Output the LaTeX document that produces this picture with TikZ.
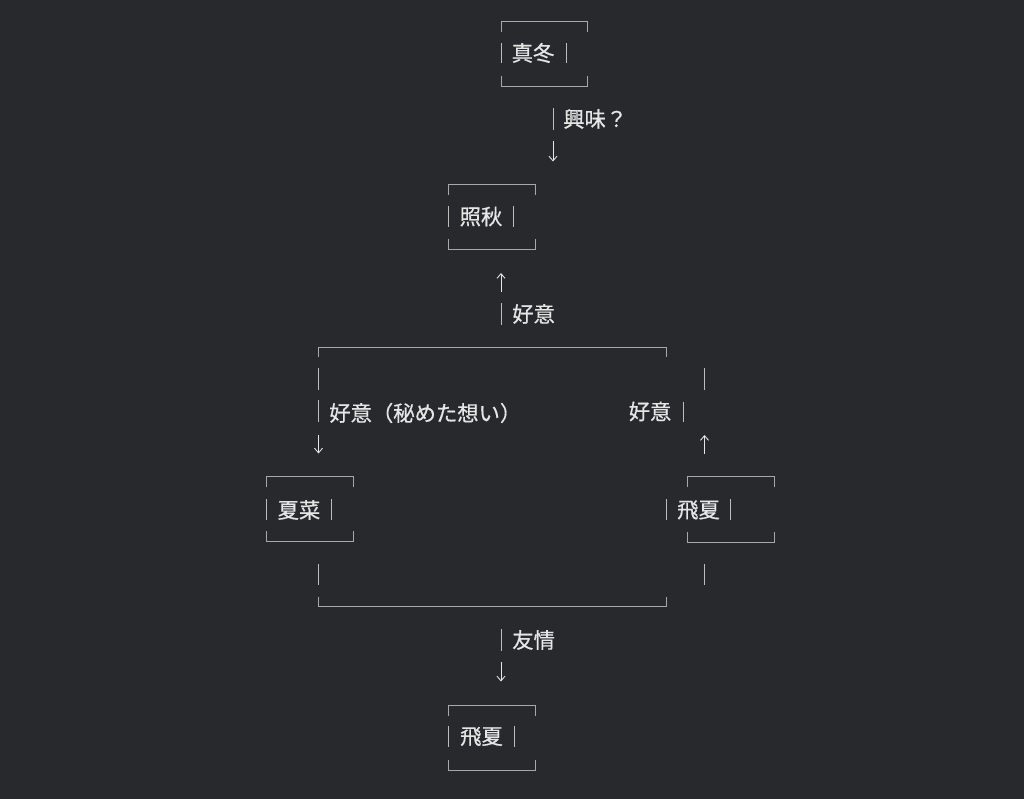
\documentclass[tikz,border=0pt]{standalone}
\usepackage{fontspec}
\newfontfamily\cjk[FakeBold=0.6]{Noto Sans CJK JP}
\usetikzlibrary{arrows.meta}
\definecolor{bg}{HTML}{28292C}
\definecolor{fg}{HTML}{E6E6E6}
\definecolor{ln}{HTML}{A8A8A8}
\definecolor{barc}{HTML}{BDBDBD}
\newcommand\frm[4]{%
  \draw[boxline] (#1,#3+10.5)--(#1,#3)--(#2,#3)--(#2,#3+10.5);
  \draw[boxline] (#1,#4-10.5)--(#1,#4)--(#2,#4)--(#2,#4-10.5);}
\newcommand\vb[3]{\draw[barline] (#1,#2)--(#1,#3);}
\begin{document}
\begin{tikzpicture}[x=0.75pt,y=-0.75pt,
  boxline/.style={draw=ln,line width=0.75pt},
  barline/.style={draw=barc,line width=0.75pt},
  lbl/.style={font=\cjk\fontsize{16}{19}\selectfont,text=fg,inner sep=0pt},
  arr/.style={draw=fg,line width=0.65pt,-{Straight Barb[length=3.5pt,width=6pt]}}]
\fill[bg] (0,0) rectangle (1024,799);
\useasboundingbox (0,0) rectangle (1024,799);

% 真冬
\frm{501}{587}{21.5}{86.5}
\vb{501}{43}{63}\vb{566}{43}{63}
\node[lbl] (mafuyu) at (533,53) {真冬};
\vb{553}{108}{130}
\node[lbl,anchor=west] (kyomi) at (563,119) {興味？};
\coordinate (a1s) at (553,141); \coordinate (a1e) at (553,161.5);
\draw[arr] (a1s) -- (a1e);

% 照秋
\frm{448.5}{535.5}{184.5}{249}
\vb{448.5}{206}{227}\vb{513.5}{206}{227}
\node[lbl] (teru) at (481,216.5) {照秋};
\coordinate (a2s) at (501,291.5); \coordinate (a2e) at (501,273);
\draw[arr] (a2s) -- (a2e);
\vb{501}{303}{325}
\node[lbl,anchor=west] (koi1) at (512,314) {好意};

% big top bracket
\draw[boxline] (318.5,357)--(318.5,347)--(666,347)--(666,357);
\vb{318.5}{368}{390}
\vb{318.5}{400}{421.5}
\node[lbl,anchor=west] (koi2) at (329,413) {好意（秘めた想い）};
\coordinate (a3s) at (318.5,435); \coordinate (a3e) at (318.5,453.5);
\draw[arr] (a3s) -- (a3e);

\vb{704.5}{368}{390}
\node[lbl] (koi3) at (650,411.5) {好意};
\vb{683}{401.5}{422}
\coordinate (a4s) at (704.5,454); \coordinate (a4e) at (704.5,435);
\draw[arr] (a4s) -- (a4e);

% 夏菜
\frm{266}{353.5}{476.7}{541.7}
\vb{266}{499}{520}\vb{331}{499}{520}
\node[lbl] (natsuna) at (299,510) {夏菜};

% 飛夏 right
\frm{687.5}{774}{476.7}{542}
\vb{666}{499}{519.5}\vb{730}{499}{519.5}
\node[lbl] (hinatsu1) at (698.5,510) {飛夏};

\vb{318.5}{563.5}{585}
\vb{704.5}{563.5}{585}
\draw[boxline] (318.5,596.5)--(318.5,606.7)--(666,606.7)--(666,596.5);

\vb{501}{628.5}{650.5}
\node[lbl,anchor=west] (yujo) at (512,640) {友情};
\coordinate (a5s) at (501,661.5); \coordinate (a5e) at (501,681.5);
\draw[arr] (a5s) -- (a5e);

% 飛夏 bottom
\frm{448.5}{535.5}{705}{770}
\vb{448.5}{726}{747}\vb{514}{726}{747}
\node[lbl] (hinatsu2) at (481.5,736.5) {飛夏};
\end{tikzpicture}
\end{document}
